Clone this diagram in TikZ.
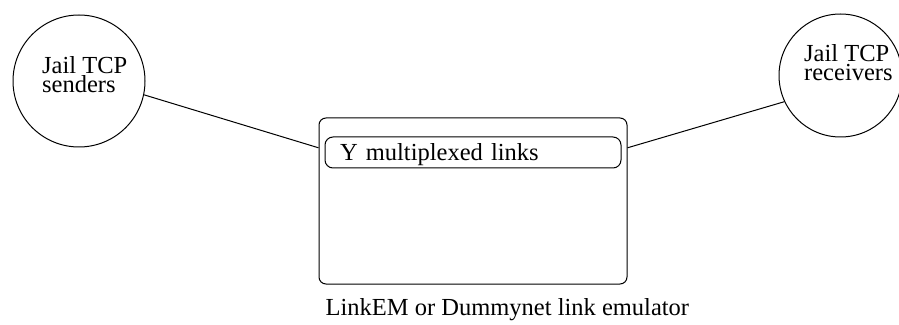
\documentclass[tikz,border=0pt]{standalone}
\usepackage{fontspec}
\setmainfont{Liberation Serif}
\usetikzlibrary{positioning,calc}

\begin{document}
\begin{tikzpicture}[x=1pt,y=1pt]
\tikzset{every node/.style={font=\fontsize{24.5}{19}\selectfont}}
\tikzset{host/.style={draw,circle,line width=1pt,inner sep=0pt}}
\tikzset{hostlabel/.style={align=left,anchor=base west,inner sep=0pt}}
\tikzset{emubox/.style={draw,rectangle,line width=1pt,rounded corners=7pt,
minimum width=308pt,minimum height=166pt}}
\tikzset{linkbox/.style={draw,rectangle,line width=1pt,rounded corners=8pt,
minimum width=296pt,minimum height=31pt,inner xsep=15pt,inner ysep=0pt,
text width=266pt,align=left,text depth=0pt}}
\useasboundingbox (0,0) rectangle (899,324);
% hosts at both ends
\node[host,minimum size=132pt] (send) at (79,243) {};
\node[host,minimum size=123pt] (recv) at (840.5,248.5) {};
\node[hostlabel] (sendtxt) at (42,231) {Jail TCP\\senders};
\node[hostlabel] (recvtxt) at (804,243) {Jail TCP\\receivers};
% emulator in the middle
\node[emubox] (emu) at (473,123) {};
\node[linkbox] (mux) at (473,171.5) {Y multiplexed links};
\node[anchor=base west,inner sep=0pt] (emucap) at ($(emu.south west)+(7,-31)$)
{LinkEM or Dummynet link emulator};
\draw[line width=1pt] (send.-12) -- (emu.161);
\draw[line width=1pt] (emu.19) -- (recv.205);
\end{tikzpicture}
\end{document}
